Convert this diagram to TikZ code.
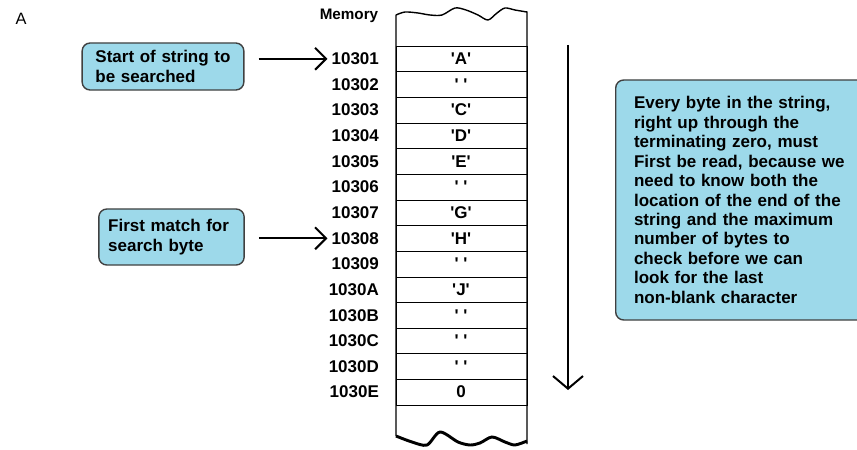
\documentclass[tikz,border=0pt]{standalone}
\usepackage{fontspec}
\setmainfont{Liberation Sans}
\usetikzlibrary{arrows.meta}

\definecolor{noteblue}{RGB}{157,217,234}
\newcommand{\memfont}{\fontsize{14.5pt}{16.6pt}\selectfont\bfseries}
\newcommand{\qc}[1]{\textquotesingle#1\textquotesingle}

\tikzset{
  callout/.style={draw=black!75, line width=1.2pt, fill=noteblue, rounded corners=0.24cm,
    align=left, font=\memfont},
  addr/.style={anchor=east, font=\memfont},
  val/.style={font=\memfont},
  barb/.style={line width=1.7pt, -{Straight Barb[length=0.33cm,width=0.66cm,line width=1.7pt]}}
}

\begin{document}
\begin{tikzpicture}[x=0.03cm,y=-0.03cm]
  \useasboundingbox (0,0) rectangle (857,450);
  \clip (0,0) rectangle (857,450);
  \node[font=\fontsize{14pt}{16pt}\selectfont] (tag) at (21,19) {A};
  \node[font=\fontsize{13pt}{15pt}\selectfont\bfseries] (memlabel) at (349,16) {Memory};

    % memory column with torn ends
    \draw[line width=1.2pt] (396,436) -- (396,15)
      plot[smooth] coordinates {(396,15) (405,12) (418,13) (430,15) (442,15) (455,8) (466,10)
        (478,15) (488,20) (497,13) (505,8) (515,10) (527,12)}
      -- (527,444);
    \draw[line width=2.5pt] plot[smooth] coordinates {(396,436) (412,442) (427,445) (440,432)
      (458,442) (470,445) (480,443) (492,437) (505,442) (515,445) (527,441)};

    \draw (396,46.0) rectangle (527,71.6);  \node[addr] (a1) at (383,58.8) {10301};  \node[val] (v1) at (461,58.8) {\qc{A}};
    \draw (396,71.6) rectangle (527,97.3);  \node[addr] (a2) at (383,84.5) {10302};  \node[val] (v2) at (461,84.5) {\qc{\ }};
    \draw (396,97.3) rectangle (527,122.9); \node[addr] (a3) at (383,110.1) {10303}; \node[val] (v3) at (461,110.1) {\qc{C}};
    \draw (396,122.9) rectangle (527,148.6); \node[addr] (a4) at (383,135.7) {10304}; \node[val] (v4) at (461,135.7) {\qc{D}};
    \draw (396,148.6) rectangle (527,174.2); \node[addr] (a5) at (383,161.4) {10305}; \node[val] (v5) at (461,161.4) {\qc{E}};
    \draw (396,174.2) rectangle (527,199.8); \node[addr] (a6) at (383,187.0) {10306}; \node[val] (v6) at (461,187.0) {\qc{\ }};
    \draw (396,199.8) rectangle (527,225.5); \node[addr] (a7) at (383,212.7) {10307}; \node[val] (v7) at (461,212.7) {\qc{G}};
    \draw (396,225.5) rectangle (527,251.1); \node[addr] (a8) at (383,238.3) {10308}; \node[val] (v8) at (461,238.3) {\qc{H}};
    \draw (396,251.1) rectangle (527,276.8); \node[addr] (a9) at (383,263.9) {10309}; \node[val] (v9) at (461,263.9) {\qc{\ }};
    \draw (396,276.8) rectangle (527,302.4); \node[addr] (a10) at (383,289.6) {1030A}; \node[val] (v10) at (461,289.6) {\qc{J}};
    \draw (396,302.4) rectangle (527,328.0); \node[addr] (a11) at (383,315.2) {1030B}; \node[val] (v11) at (461,315.2) {\qc{\ }};
    \draw (396,328.0) rectangle (527,353.7); \node[addr] (a12) at (383,340.9) {1030C}; \node[val] (v12) at (461,340.9) {\qc{\ }};
    \draw (396,353.7) rectangle (527,379.3); \node[addr] (a13) at (383,366.5) {1030D}; \node[val] (v13) at (461,366.5) {\qc{\ }};
    \draw (396,379.3) rectangle (527,405.0); \node[addr] (a14) at (383,392.1) {1030E}; \node[val] (v14) at (461,392.1) {0};

    % notes
    \node[callout, text width=4.05cm, inner xsep=0.4cm, minimum height=1.41cm] (startnote) at (163,66.5)
      {Start of string to\\be searched};
    \node[callout, text width=3.8cm, inner xsep=0.28cm, minimum height=1.68cm] (matchnote) at (171.5,237)
      {First match for\\search byte};
    \node[callout, anchor=west, text width=6.7cm, inner xsep=0.55cm, minimum height=7.2cm] (readnote) at (615,200)
      {Every byte in the string,\\right up through the\\terminating zero, must\\First be read, because we\\need to know both the\\location of the end of the\\string and the maximum\\number of bytes to\\check before we can\\look for the last\\non-blank character};

    \coordinate (startout) at ([xshift=0.42cm]startnote.east);
    \coordinate (matchout) at ([xshift=0.42cm]matchnote.east);
    \draw[barb] (startout |- a1.west) -- (a1.west);
    \draw[barb] (matchout |- a8.west) -- (a8.west);

    \coordinate (scantop) at (568,45);
    \coordinate (scanend) at (568,390);
    \draw[line width=1.7pt, -{Straight Barb[length=0.38cm,width=0.9cm,line width=1.7pt]}] (scantop) -- (scanend);
  \end{tikzpicture}
\end{document}
